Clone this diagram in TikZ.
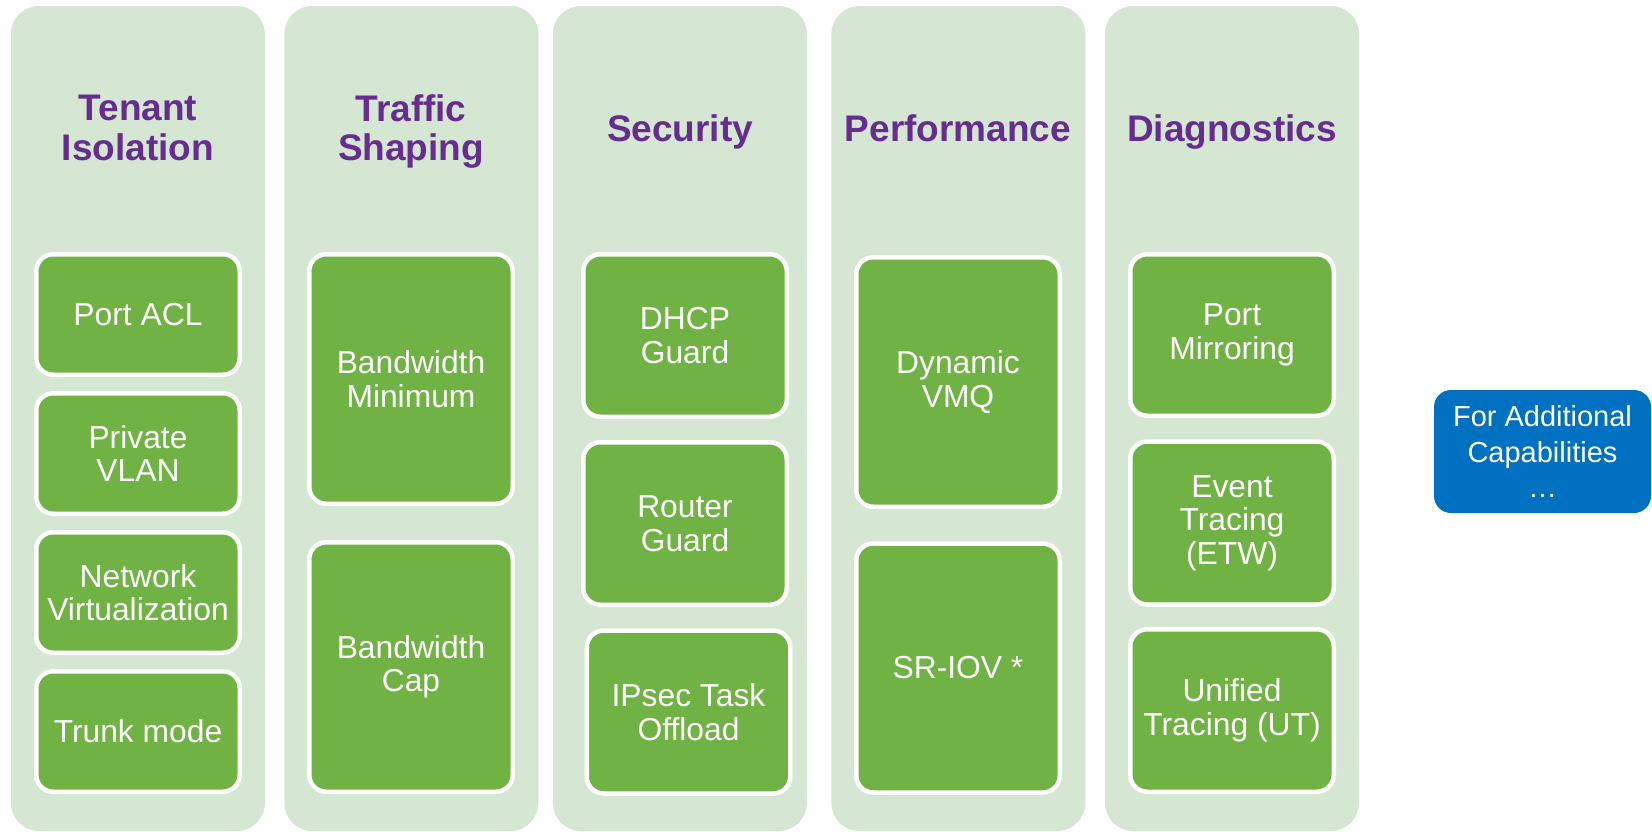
\documentclass[tikz,border=0pt]{standalone}
\usepackage{fontspec}
\setmainfont{Liberation Sans}
\definecolor{panelgreen}{RGB}{213,230,210}
\definecolor{boxgreen}{RGB}{112,178,68}
\definecolor{titlepurple}{RGB}{102,45,145}
\definecolor{moreblue}{RGB}{0,112,192}

\begin{document}
\begin{tikzpicture}[x=1pt, y=-1pt,
    panel/.style={fill=panelgreen, rounded corners=28pt, minimum width=254pt,
        minimum height=825pt, inner sep=0pt},
    paneltitle/.style={text=titlepurple, align=center,
        font=\fontsize{37}{39.3}\selectfont\bfseries},
    feature/.style={draw=white, line width=4.5pt, fill=boxgreen,
        rounded corners=17pt, text=white, align=center, inner sep=0pt,
        minimum width=203.5pt, font=\fontsize{31.8}{33.5}\selectfont},
    morebox/.style={fill=moreblue, rounded corners=17pt, text=white,
        align=center, inner sep=0pt, minimum width=217pt, minimum height=123pt,
        font=\fontsize{29}{35.5}\selectfont}]
    \useasboundingbox (0, 0) rectangle (1652, 831);

    % columns
    \node[panel] (isolation) at (137.9, 418.5) {};
    \node[panel] (shaping) at (411.3, 418.5) {};
    \node[panel] (security) at (679.9, 418.5) {};
    \node[panel] (performance) at (958.4, 418.5) {};
    \node[panel] (diagnostics) at (1232, 418.5) {};

    \node[paneltitle] (isolation-title) at (138, 128) {Tenant\\Isolation};
    \node[paneltitle] (shaping-title) at (411, 131.5) {Traffic\\Shaping};
    \node[paneltitle] (security-title) at (680, 132) {Security};
    \node[paneltitle] (performance-title) at (958, 128) {Performance};
    \node[paneltitle] (diagnostics-title) at (1232, 132) {Diagnostics};

    % tenant isolation
    \node[feature, minimum height=120.5pt] (acl) at (138, 314.5) {Port ACL};
    \node[feature, minimum height=120.5pt] (pvlan) at (138, 453.5) {Private\\VLAN};
    \node[feature, minimum height=120.5pt] (netvirt) at (138, 592.5)
        {Network\\Virtualization};
    \node[feature, minimum height=120.5pt] (trunk) at (138, 731.5) {Trunk mode};

    % traffic shaping
    \node[feature, minimum height=249.5pt] (bw-min) at (411, 379)
        {Bandwidth\\Minimum};
    \node[feature, minimum height=249.5pt] (bw-cap) at (411, 667) {Bandwidth\\Cap};

    % security
    \node[feature, minimum height=162.5pt] (dhcp) at (685, 335.5) {DHCP\\Guard};
    \node[feature, minimum height=162.5pt] (router) at (685, 523.5) {Router\\Guard};
    \node[feature, minimum height=163pt] (ipsec) at (688.5, 712)
        {IPsec Task\\Offload};

    % performance
    \node[feature, minimum height=249.5pt] (vmq) at (958, 382) {Dynamic\\VMQ};
    \node[feature, minimum height=249pt] (sriov) at (958, 668) {SR-IOV *};

    % diagnostics
    \node[feature, minimum height=161.5pt] (mirror) at (1232, 335) {Port\\Mirroring};
    \node[feature, minimum height=163pt] (etw) at (1232, 523)
        {Event\\Tracing\\(ETW)};
    \node[feature, minimum height=162.5pt] (ut) at (1232, 710.5)
        {Unified\\Tracing (UT)};

    \node[morebox] (more) at (1542.5, 451.5) {For Additional\\Capabilities\\…};
\end{tikzpicture}
\end{document}
